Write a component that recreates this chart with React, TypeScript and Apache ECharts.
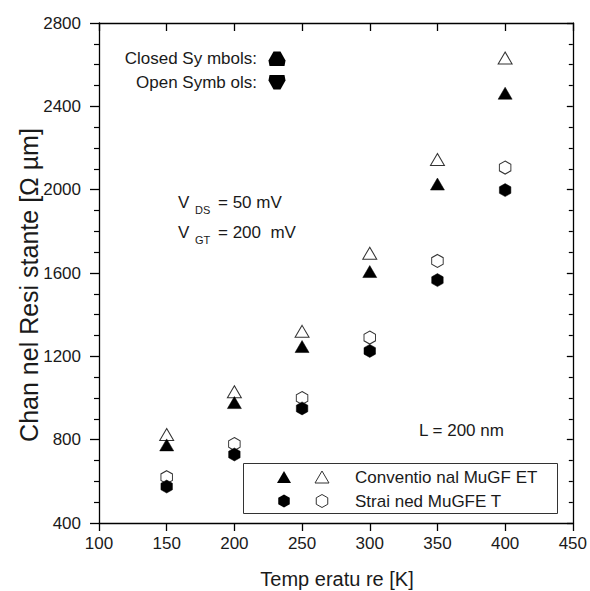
import React, { useEffect, useRef } from "react";
import * as echarts from "echarts";

const temps = [150, 200, 250, 300, 350, 400];
const convOpen = [825, 1030, 1320, 1695, 2145, 2632];
const convClosed = [775, 978, 1247, 1607, 2027, 2463];
const strOpen = [620, 779, 1000, 1290, 1658, 2106];
const strClosed = [575, 729, 950, 1226, 1566, 1998];

const xTitle = "Temp eratu re [K]";
const yTitle = "Chan nel Resi stante [Ω µm]";
const legendNames = ["Conventio nal MuGF ET", "Strai ned MuGFE T"];

const FONT = "'Liberation Sans', Arial, sans-serif";
const TXT = "#1a1a1a";
const HEX = "path://M0,-1L0.866,-0.5L0.866,0.5L0,1L-0.866,0.5L-0.866,-0.5Z";

const tri = (cx: number, cy: number, w: number, h: number) => [
  [cx - w / 2, cy + h / 2],
  [cx + w / 2, cy + h / 2],
  [cx, cy - h / 2],
];
const hex = (cx: number, cy: number, w: number, h: number) => [
  [cx, cy - h / 2],
  [cx + w / 2, cy - h / 4],
  [cx + w / 2, cy + h / 4],
  [cx, cy + h / 2],
  [cx - w / 2, cy + h / 4],
  [cx - w / 2, cy - h / 4],
];

const txt = (x: number, y: number, text: string, size: number, align = "left") => ({
  type: "text",
  x,
  y,
  style: { text, fontSize: size, fontFamily: FONT, fill: TXT, align, verticalAlign: "middle" },
});

export default function App() {
  const ref = useRef<HTMLDivElement>(null);
  useEffect(() => {
    if (!ref.current) return;
    document.body.style.margin = "0";
    const chart = echarts.init(ref.current, null, { renderer: "svg" });
    const pair = (ys: number[]) => temps.map((t, i) => [t, ys[i]]);
    const openStyle = { color: "#fff", borderColor: "#333", borderWidth: 1, opacity: 1 };
    const closedStyle = { color: "#000", borderColor: "#000", borderWidth: 0.5, opacity: 1 };
    const axisLine = { show: true, lineStyle: { color: "#000", width: 1.3 } };
    chart.setOption({
      animation: false,
      backgroundColor: "#fff",
      grid: { left: 99, right: 15, top: 23, bottom: 68 },
      xAxis: [
        {
          type: "value", min: 100, max: 450, interval: 50, position: "bottom",
          axisLine, splitLine: { show: false },
          axisTick: { show: true, inside: false, length: 8, lineStyle: { color: "#000", width: 1.3 } },
          axisLabel: { fontSize: 17, fontFamily: FONT, color: TXT, margin: 12, formatter: (v: number) => String(v) },
        },
        {
          type: "value", min: 100, max: 450, interval: 50, position: "top",
          axisLine, splitLine: { show: false },
          axisTick: { show: true, inside: true, length: 8, lineStyle: { color: "#000", width: 1.3 } },
          axisLabel: { show: false },
        },
      ],
      yAxis: [
        {
          type: "value", min: 400, max: 2800, interval: 400, position: "left",
          axisLine, splitLine: { show: false },
          axisTick: { show: true, inside: false, length: 9, lineStyle: { color: "#000", width: 1.3 } },
          minorTick: { show: true, splitNumber: 4, length: 5, lineStyle: { color: "#000", width: 1.2 } },
          axisLabel: { fontSize: 17, fontFamily: FONT, color: TXT, margin: 18, formatter: (v: number) => String(v) },
        },
        {
          type: "value", min: 400, max: 2800, interval: 400, position: "right",
          axisLine, splitLine: { show: false },
          axisTick: { show: true, inside: true, length: 6, lineStyle: { color: "#000", width: 1.3 } },
          minorTick: { show: true, splitNumber: 4, length: 4, lineStyle: { color: "#000", width: 1.2 } },
          axisLabel: { show: false },
        },
      ],
      series: [
        { name: legendNames[0] + " (open)", type: "scatter", symbol: "triangle", symbolSize: [14, 12], itemStyle: openStyle, data: pair(convOpen), z: 2 },
        { name: legendNames[1] + " (open)", type: "scatter", symbol: HEX, symbolSize: [11.5, 13], itemStyle: openStyle, data: pair(strOpen), z: 2 },
        { name: legendNames[0], type: "scatter", symbol: "triangle", symbolSize: [14, 12], itemStyle: closedStyle, data: pair(convClosed), z: 3 },
        { name: legendNames[1], type: "scatter", symbol: HEX, symbolSize: [11.5, 13], itemStyle: closedStyle, data: pair(strClosed), z: 3 },
      ],
      graphic: [
        txt(257, 58, "Closed Sy mbols:", 17, "right"),
        txt(257, 82, "Open Symb ols:", 17, "right"),
        {
          type: "polygon",
          shape: { points: [[273.5, 51.5], [280.5, 51.5], [285.5, 60.5], [284.5, 66], [269.5, 66], [268.5, 60.5]] },
          style: { fill: "#000" },
        },
        {
          type: "polygon",
          shape: { points: [[269.5, 75], [284.5, 75], [285.5, 80.5], [280.5, 89.5], [273.5, 89.5], [268.5, 80.5]] },
          style: { fill: "#000" },
        },
        txt(178, 202, "V", 17),
        txt(195, 210, "DS", 11),
        txt(218, 202, "= 50 mV", 17),
        txt(178, 232, "V", 17),
        txt(195, 240, "GT", 11),
        txt(218, 232, "= 200  mV", 17),
        txt(419, 430, "L = 200 nm", 17),
        {
          type: "rect",
          shape: { x: 243.5, y: 463.5, width: 314, height: 50 },
          style: { fill: "#fff", stroke: "#333", lineWidth: 1 },
          z: 10,
        },
        { type: "polygon", shape: { points: tri(284, 477, 14, 12) }, style: { fill: "#000" }, z: 11 },
        { type: "polygon", shape: { points: tri(322, 477, 14, 12) }, style: { fill: "#fff", stroke: "#333", lineWidth: 1 }, z: 11 },
        { type: "polygon", shape: { points: hex(284, 501, 11.5, 13) }, style: { fill: "#000" }, z: 11 },
        { type: "polygon", shape: { points: hex(322, 501, 11.5, 13) }, style: { fill: "#fff", stroke: "#333", lineWidth: 1 }, z: 11 },
        { ...txt(355, 477, legendNames[0], 17), z: 11 },
        { ...txt(355, 501, legendNames[1], 17), z: 11 },
        txt(337, 579, xTitle, 20, "center"),
        {
          type: "text",
          x: 29,
          y: 285,
          rotation: Math.PI / 2,
          style: { text: yTitle, fontSize: 25, fontFamily: FONT, fill: TXT, align: "center", verticalAlign: "middle" },
        },
      ],
    });
    return () => chart.dispose();
  }, []);
  return <div ref={ref} style={{ width: 590, height: 591 }} />;
}
